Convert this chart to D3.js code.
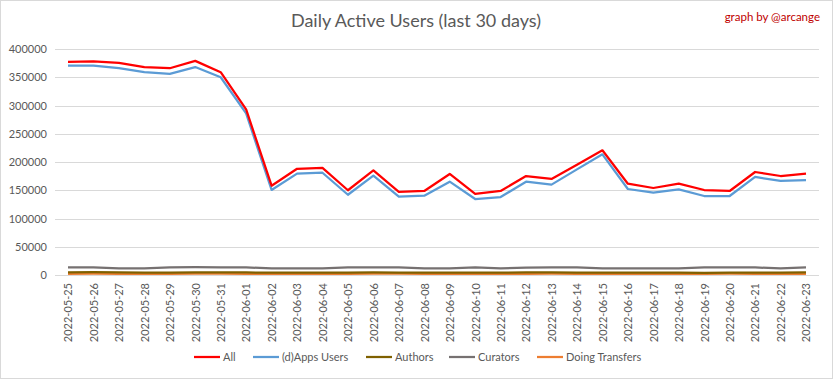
<!DOCTYPE html>
<html>
<head>
<meta charset="utf-8">
<script src="https://cdn.jsdelivr.net/npm/d3@7"></script>
<style>
  body { margin: 0; background: #fff; }
  text { font-family: Lato, "Open Sans", sans-serif; }
</style>
</head>
<body>
<div class="chart"></div>
<script>
var width = 833, height = 379;

// data
var dates = ["2022-05-25","2022-05-26","2022-05-27","2022-05-28","2022-05-29","2022-05-30","2022-05-31",
  "2022-06-01","2022-06-02","2022-06-03","2022-06-04","2022-06-05","2022-06-06","2022-06-07","2022-06-08",
  "2022-06-09","2022-06-10","2022-06-11","2022-06-12","2022-06-13","2022-06-14","2022-06-15","2022-06-16",
  "2022-06-17","2022-06-18","2022-06-19","2022-06-20","2022-06-21","2022-06-22","2022-06-23"];
var all = [377000,378000,375500,368000,366000,379000,359000,293000,158000,188000,189500,150000,185000,147000,148700,
  178800,143400,148700,175200,170000,195000,220700,161600,154000,161600,150400,148700,182300,175200,179300];
var dapps = [370500,370500,366000,359000,356000,368000,350000,286000,150500,179500,181000,142000,175800,138600,140400,
  165200,134500,138000,165200,159900,187000,213600,152200,145700,151700,139800,139800,173500,166400,168100];
var authors = [4800,4900,4500,4300,4200,4700,4600,4500,4000,4300,4200,4000,4500,4300,4200,
  4400,4100,4000,4500,4600,4400,4300,4100,4000,4200,3900,4200,4400,4300,4500];
var curators = [13500,13400,11800,11600,13600,13800,13700,13500,11600,11800,11700,13400,13500,13600,11800,
  11700,13400,11800,13200,13500,13400,11900,11800,11700,11800,13300,13400,13300,11800,13700];
var transfers = [2200,2300,2000,2100,1800,2400,2300,2200,2000,1800,1900,2100,2400,2300,2200,
  2000,2100,1800,2200,2300,2100,2000,1900,2000,1800,1900,2300,2200,2100,2000];
var yTicks = [0,50000,100000,150000,200000,250000,300000,350000,400000];

var series = [
  {name: "All", values: all, color: "#ff0000"},
  {name: "(d)Apps Users", values: dapps, color: "#5b9bd5"},
  {name: "Authors", values: authors, color: "#7f6000"},
  {name: "Curators", values: curators, color: "#767171"},
  {name: "Doing Transfers", values: transfers, color: "#ed7d31"}
];

var svg = d3.select(".chart")
    .append("svg")
    .attr("width", width)
    .attr("height", height);

svg.append("rect")
    .attr("x", 0.5).attr("y", 0.5)
    .attr("width", width - 1).attr("height", height - 1)
    .attr("fill", "#fff")
    .attr("stroke", "#d9d9d9");

var x = d3.scalePoint().domain(dates).range([68, 806]);
var y = d3.scaleLinear().domain([0, 400000]).range([275, 49]);

// gridlines
svg.append("g").selectAll("line")
    .data(yTicks)
    .enter().append("line")
      .attr("x1", 55).attr("x2", 819)
      .attr("y1", function(d) { return Math.round(y(d)) + 0.5; })
      .attr("y2", function(d) { return Math.round(y(d)) + 0.5; })
      .attr("stroke", "#d9d9d9")
      .attr("stroke-width", 1);

// y axis labels
var yAxis = svg.append("g")
    .attr("transform", "translate(52,0)")
    .call(d3.axisLeft(y).tickValues(yTicks).tickSize(0).tickPadding(5).tickFormat(d3.format("d")));
yAxis.select(".domain").remove();
yAxis.selectAll("text").attr("fill", "#595959").style("font-size", "11px").style("font-family", "Lato, sans-serif");

// x axis labels
var xAxis = svg.append("g")
    .attr("transform", "translate(0,275)")
    .call(d3.axisBottom(x).tickSize(0).tickPadding(0));
xAxis.select(".domain").remove();
xAxis.selectAll("text")
    .attr("fill", "#595959")
    .style("font-size", "11px")
    .style("font-family", "Lato, sans-serif")
    .attr("transform", "rotate(-90)")
    .attr("text-anchor", "end")
    .attr("x", -8)
    .attr("y", 0)
    .attr("dy", "0.35em");

var line = d3.line()
    .x(function(d, i) { return x(dates[i]); })
    .y(function(d) { return y(d); });

// draw bottom series first so All stays on top
series.slice().reverse().forEach(function(s) {
  svg.append("path")
      .datum(s.values)
      .attr("fill", "none")
      .attr("stroke", s.color)
      .attr("stroke-width", 2.25)
      .attr("stroke-linejoin", "round")
      .attr("d", line);
});

// title
svg.append("text")
    .attr("x", 416).attr("y", 27)
    .attr("text-anchor", "middle")
    .attr("fill", "#595959")
    .style("font-size", "18px")
    .text("Daily Active Users (last 30 days)");

svg.append("text")
    .attr("x", 820).attr("y", 21)
    .attr("text-anchor", "end")
    .attr("fill", "#c00000")
    .style("font-size", "11.5px")
    .text("graph by @arcange");

// legend
var legendX = [194, 253, 366, 449, 537];
var legend = svg.append("g").selectAll("g")
    .data(series)
    .enter().append("g")
      .attr("transform", function(d, i) { return "translate(" + legendX[i] + ",357)"; });
legend.append("line")
    .attr("x1", 0).attr("x2", 26)
    .attr("stroke", function(d) { return d.color; })
    .attr("stroke-width", 2.25);
legend.append("text")
    .attr("x", 29).attr("dy", "0.35em")
    .attr("fill", "#595959")
    .style("font-size", "11px")
    .text(function(d) { return d.name; });
</script>
</body>
</html>
